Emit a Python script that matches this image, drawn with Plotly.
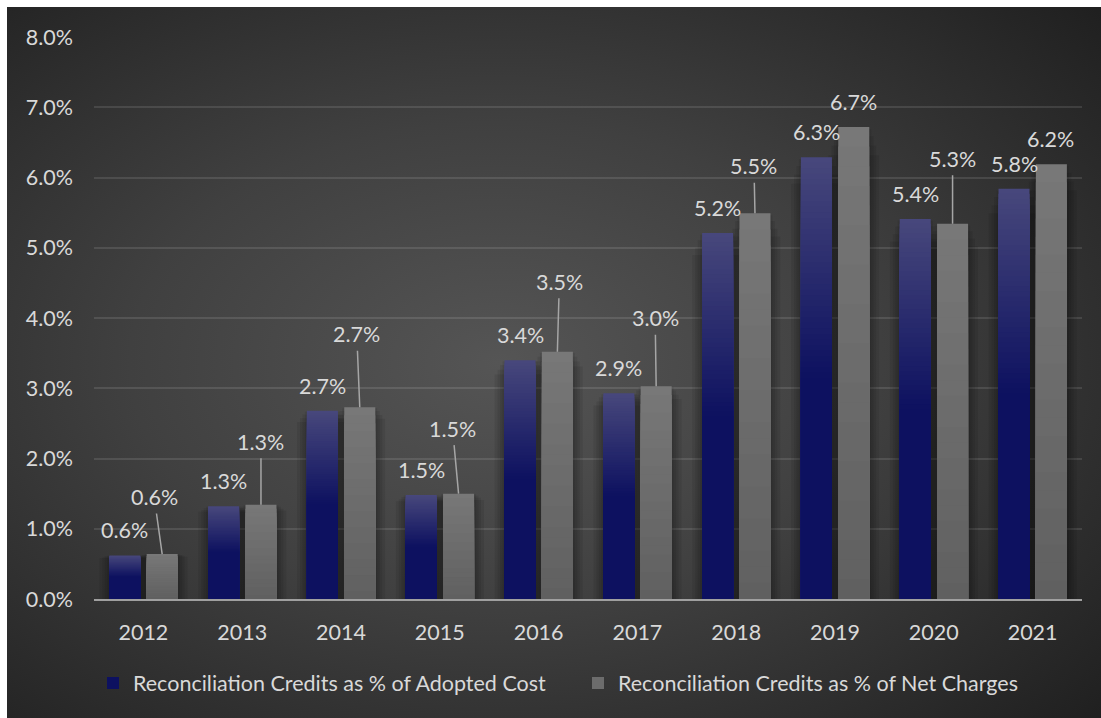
import base64
import plotly.graph_objects as go

# ---- data -------------------------------------------------------------
years = ["2012", "2013", "2014", "2015", "2016", "2017", "2018", "2019", "2020", "2021"]
adopted_cost_pct = [0.62, 1.32, 2.68, 1.48, 3.40, 2.93, 5.21, 6.29, 5.41, 5.84]
net_charges_pct = [0.64, 1.34, 2.73, 1.50, 3.52, 3.03, 5.49, 6.72, 5.34, 6.19]
series_names = [
    "Reconciliation Credits as % of Adopted Cost",
    "Reconciliation Credits as % of Net Charges",
]

# ---- label placement (pixels relative to bar top) -----------------------
net_label_dx = [-8, 0, -3, -6, 2, -1, -1, 0, 0, -1]
net_label_rise = [57, 63, 73, 65, 70, 68, 47, 25, 65, 25]
cost_label_rise = 25

# ---- geometry / style -------------------------------------------------
FONT = "Lato"
FS = 21.5
TXT = "#d9d9d9"
BAR_W = 0.314
COST_OFF = -0.345
NET_OFF = 0.033

W, H = 1101, 718
ML, MR, MT, MB = 94, 19, 37, 119
plot_w = W - ML - MR
plot_h = H - MT - MB

x_idx = list(range(len(years)))


def mix(c0, c1, t):
    return "rgb(%d,%d,%d)" % tuple(round(a + (b - a) * t) for a, b in zip(c0, c1))


fig = go.Figure()

# soft shadow behind each bar, tapering towards the bar top
for vals, off in ((adopted_cost_pct, COST_OFF), (net_charges_pct, NET_OFF)):
    for pad, h in ((0.10, 0.94), (0.07, 0.96), (0.045, 0.98), (0.02, 0.995)):
        fig.add_bar(
            x=x_idx, y=[v * h for v in vals], width=BAR_W + 2 * pad, offset=off - pad,
            marker=dict(color="rgba(0,0,0,0.08)", line=dict(width=0)),
            showlegend=False, hoverinfo="skip",
        )

# blue series: vertical gradient, light at the top, deep navy in the lower half
cost_top, cost_dark = (72, 72, 124), (13, 17, 96)
steps = 40
for k in range(steps + 1):
    f = 1.0 - k * 0.5 / steps
    if k < steps:
        t = ((f - 0.5 / steps / 2) - 0.5) / 0.5
        col = mix(cost_dark, cost_top, max(t, 0))
    else:
        col = mix(cost_dark, cost_top, 0)
    fig.add_bar(
        x=x_idx, y=[v * f for v in adopted_cost_pct], width=BAR_W, offset=COST_OFF,
        marker=dict(color=col, line=dict(width=0)),
        name=series_names[0], legendgroup="cost", legendrank=1,
        showlegend=(k == steps), hoverinfo="skip",
    )

# grey series: gentle gradient from top to bottom
net_top, net_bot = (120, 120, 120), (96, 96, 96)
gsteps = 24
for k in range(gsteps):
    f = 1.0 - k / gsteps
    t = f - 0.5 / gsteps
    col = mix(net_bot, net_top, t)
    fig.add_bar(
        x=x_idx, y=[v * f for v in net_charges_pct], width=BAR_W, offset=NET_OFF,
        marker=dict(color=col, line=dict(width=0)),
        name=series_names[1], legendgroup="net", legendrank=2,
        showlegend=(k == gsteps // 2), hoverinfo="skip",
    )

# ---- data labels --------------------------------------------------------
annotations = []
for i, v in enumerate(adopted_cost_pct):
    annotations.append(dict(
        x=i + COST_OFF + BAR_W / 2, y=v, xref="x", yref="y",
        text=f"{v:.1f}%", showarrow=False, yshift=cost_label_rise,
        font=dict(family=FONT, size=FS, color=TXT),
    ))
for i, v in enumerate(net_charges_pct):
    rise = net_label_rise[i]
    a = dict(
        x=i + NET_OFF + BAR_W / 2, y=v, xref="x", yref="y",
        text=f"{v:.1f}%", font=dict(family=FONT, size=FS, color=TXT),
    )
    if rise > 35:
        a.update(showarrow=True, arrowhead=0, arrowwidth=1.5, arrowcolor="#a6a6a6",
                 ax=net_label_dx[i], ay=-rise, standoff=0, startstandoff=2)
    else:
        a.update(showarrow=False, yshift=rise, xshift=net_label_dx[i])
    annotations.append(a)

# ---- dark radial-gradient panel behind the chart -------------------------
svg = (
    '<svg xmlns="http://www.w3.org/2000/svg" viewBox="0 0 100 100" preserveAspectRatio="none">'
    '<defs><radialGradient id="g" cx="0.45" cy="0.5" r="0.75">'
    '<stop offset="0" stop-color="#555555"/>'
    '<stop offset="0.45" stop-color="#404040"/>'
    '<stop offset="1" stop-color="#1f1f1f"/>'
    '</radialGradient></defs>'
    '<rect x="0" y="0" width="100" height="100" fill="url(#g)"/></svg>'
)
svg_uri = "data:image/svg+xml;base64," + base64.b64encode(svg.encode()).decode()

panel_x0, panel_y0 = 7, 7
img = dict(
    source=svg_uri, xref="paper", yref="paper",
    x=(panel_x0 - ML) / plot_w, y=(H - MB - panel_y0) / plot_h,
    sizex=(W - panel_x0) / plot_w, sizey=(H - panel_y0) / plot_h,
    xanchor="left", yanchor="top", sizing="stretch", layer="below",
)

fig.update_layout(
    width=W, height=H,
    margin=dict(l=ML, r=MR, t=MT, b=MB, pad=0),
    paper_bgcolor="white", plot_bgcolor="rgba(0,0,0,0)",
    barmode="overlay",
    images=[img],
    annotations=annotations,
    font=dict(family=FONT, size=FS, color=TXT),
    showlegend=True,
    legend=dict(
        orientation="h", xref="paper", yref="paper",
        x=(93 - ML) / plot_w, y=-84 / plot_h, xanchor="left", yanchor="middle",
        bgcolor="rgba(0,0,0,0)", font=dict(family=FONT, size=FS, color=TXT),
        entrywidth=440, traceorder="normal",
    ),
    xaxis=dict(
        range=[-0.5, len(years) - 0.5], tickmode="array", tickvals=x_idx, ticktext=years,
        showgrid=False, zeroline=False, showline=True, linecolor="#a0a0a0", linewidth=2,
        ticks="", ticklabelstandoff=13, tickfont=dict(family=FONT, size=FS, color=TXT),
        fixedrange=True,
    ),
    yaxis=dict(
        range=[0, 8], dtick=1, tickformat=".1f", ticksuffix="%",
        showgrid=True, gridcolor="rgba(255,255,255,0.11)", gridwidth=1.5,
        zeroline=False, showline=False, ticks="", ticklabelstandoff=20,
        tickfont=dict(family=FONT, size=FS, color=TXT), fixedrange=True,
    ),
)

fig.write_html("out.html")
